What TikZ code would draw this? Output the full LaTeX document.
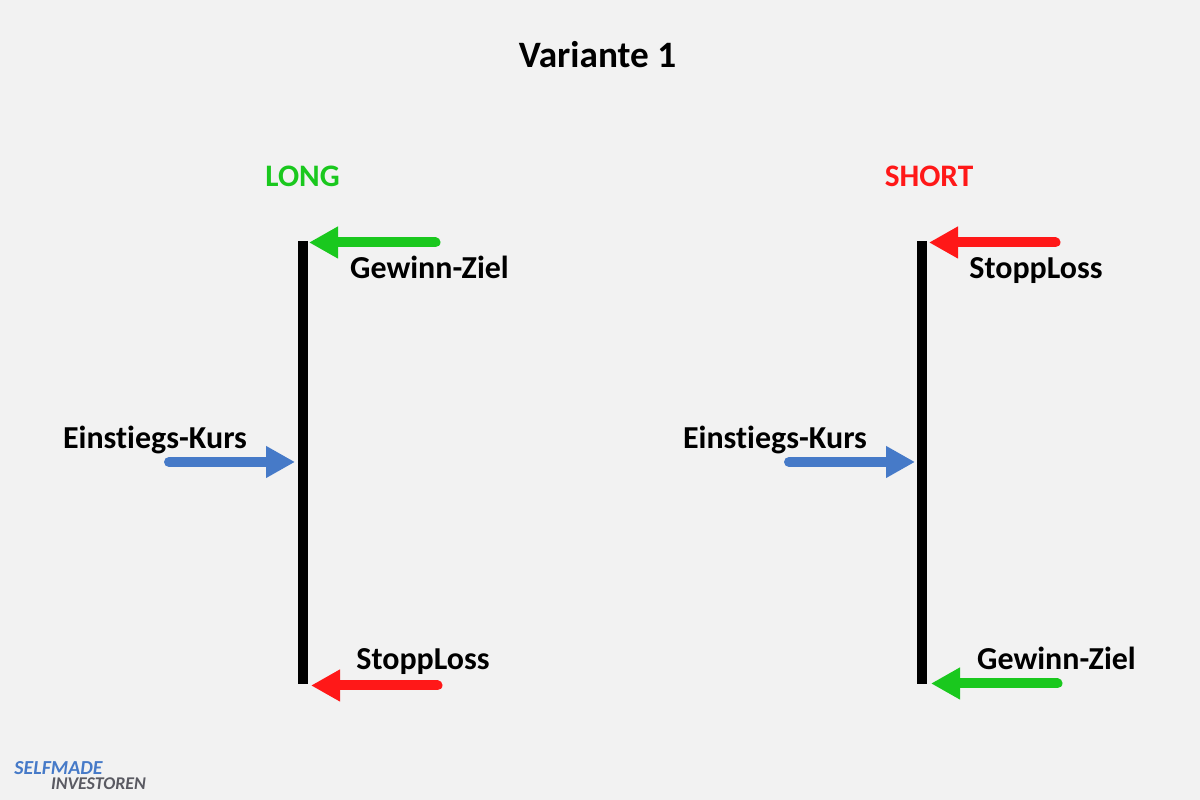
\documentclass[tikz,border=0pt]{standalone}
\usepackage{fontspec}
\setmainfont{Carlito}[Ligatures=NoCommon]
\usetikzlibrary{arrows.meta}
\definecolor{bggray}{RGB}{242,242,242}
\definecolor{longgreen}{RGB}{26,200,30}
\definecolor{shortred}{RGB}{255,24,24}
\definecolor{entryblue}{RGB}{70,122,200}
\definecolor{logogray}{RGB}{90,90,98}
\tikzset{
	label/.style={font=\bfseries\fontsize{9.1}{11}\selectfont,text=black,inner sep=0pt,anchor=base},
	head/.style={font=\bfseries\fontsize{8.9}{11}\selectfont,inner sep=0pt,anchor=base},
	bar/.style={line width=0.1cm,black},
	pfeil/.style={line width=0.1cm,line cap=round,-{Triangle[length=0.29cm,width=0.30cm,sharp]}},
}

\begin{document}
\begin{tikzpicture}[x=1cm,y=1cm]
	\fill[bggray] (0,0) rectangle (12,8);
	\useasboundingbox (0,0) rectangle (12,8);

	\node[font=\bfseries\fontsize{10.6}{13}\selectfont,inner sep=0pt,anchor=base] (titel) at (5.975,7.325) {Variante 1};

	% linke Seite
	\node[head,text=longgreen] (long) at (3.025,6.13) {LONG};
	\coordinate (lo1) at (3.03,5.59);
	\coordinate (lo2) at (3.03,1.16);
	\draw[bar] (lo1) -- (lo2);
	\coordinate (gewinn1a) at (4.355,5.575);
	\coordinate (gewinn1b) at (3.09,5.575);
	\coordinate (einstieg1a) at (1.69,3.38);
	\coordinate (einstieg1b) at (2.95,3.38);
	\coordinate (stopp1a) at (4.375,1.145);
	\coordinate (stopp1b) at (3.11,1.145);
	\draw[pfeil,longgreen] (gewinn1a) -- (gewinn1b);
	\draw[pfeil,entryblue] (einstieg1a) -- (einstieg1b);
	\draw[pfeil,shortred] (stopp1a) -- (stopp1b);
	\node[label] (gewinnlabel1) at (4.295,5.21) {Gewinn-Ziel};
	\node[label] (einstieglabel1) at (1.55,3.51) {Einstiegs-Kurs};
	\node[label] (stopplabel1) at (4.23,1.30) {StoppLoss};

	% rechte Seite
	\node[head,text=shortred] (short) at (9.29,6.13) {SHORT};
	\coordinate (sh1) at (9.22,5.59);
	\coordinate (sh2) at (9.22,1.16);
	\draw[bar] (sh1) -- (sh2);
	\coordinate (stopp2a) at (10.555,5.575);
	\coordinate (stopp2b) at (9.29,5.575);
	\coordinate (einstieg2a) at (7.89,3.38);
	\coordinate (einstieg2b) at (9.15,3.38);
	\coordinate (gewinn2a) at (10.575,1.165);
	\coordinate (gewinn2b) at (9.31,1.165);
	\draw[pfeil,shortred] (stopp2a) -- (stopp2b);
	\draw[pfeil,entryblue] (einstieg2a) -- (einstieg2b);
	\draw[pfeil,longgreen] (gewinn2a) -- (gewinn2b);
	\node[label] (stopplabel2) at (10.36,5.21) {StoppLoss};
	\node[label] (einstieglabel2) at (7.75,3.51) {Einstiegs-Kurs};
	\node[label] (gewinnlabel2) at (10.565,1.30) {Gewinn-Ziel};

	% Logo
	\node[font=\bfseries\itshape\fontsize{5.65}{7}\selectfont,text=entryblue,inner sep=0pt,anchor=base] (logo1) at (0.585,0.25) {SELFMADE};
	\node[font=\bfseries\itshape\fontsize{5.1}{6}\selectfont,text=logogray,inner sep=0pt,anchor=base] (logo2) at (0.985,0.10) {INVESTOREN};
\end{tikzpicture}
\end{document}
